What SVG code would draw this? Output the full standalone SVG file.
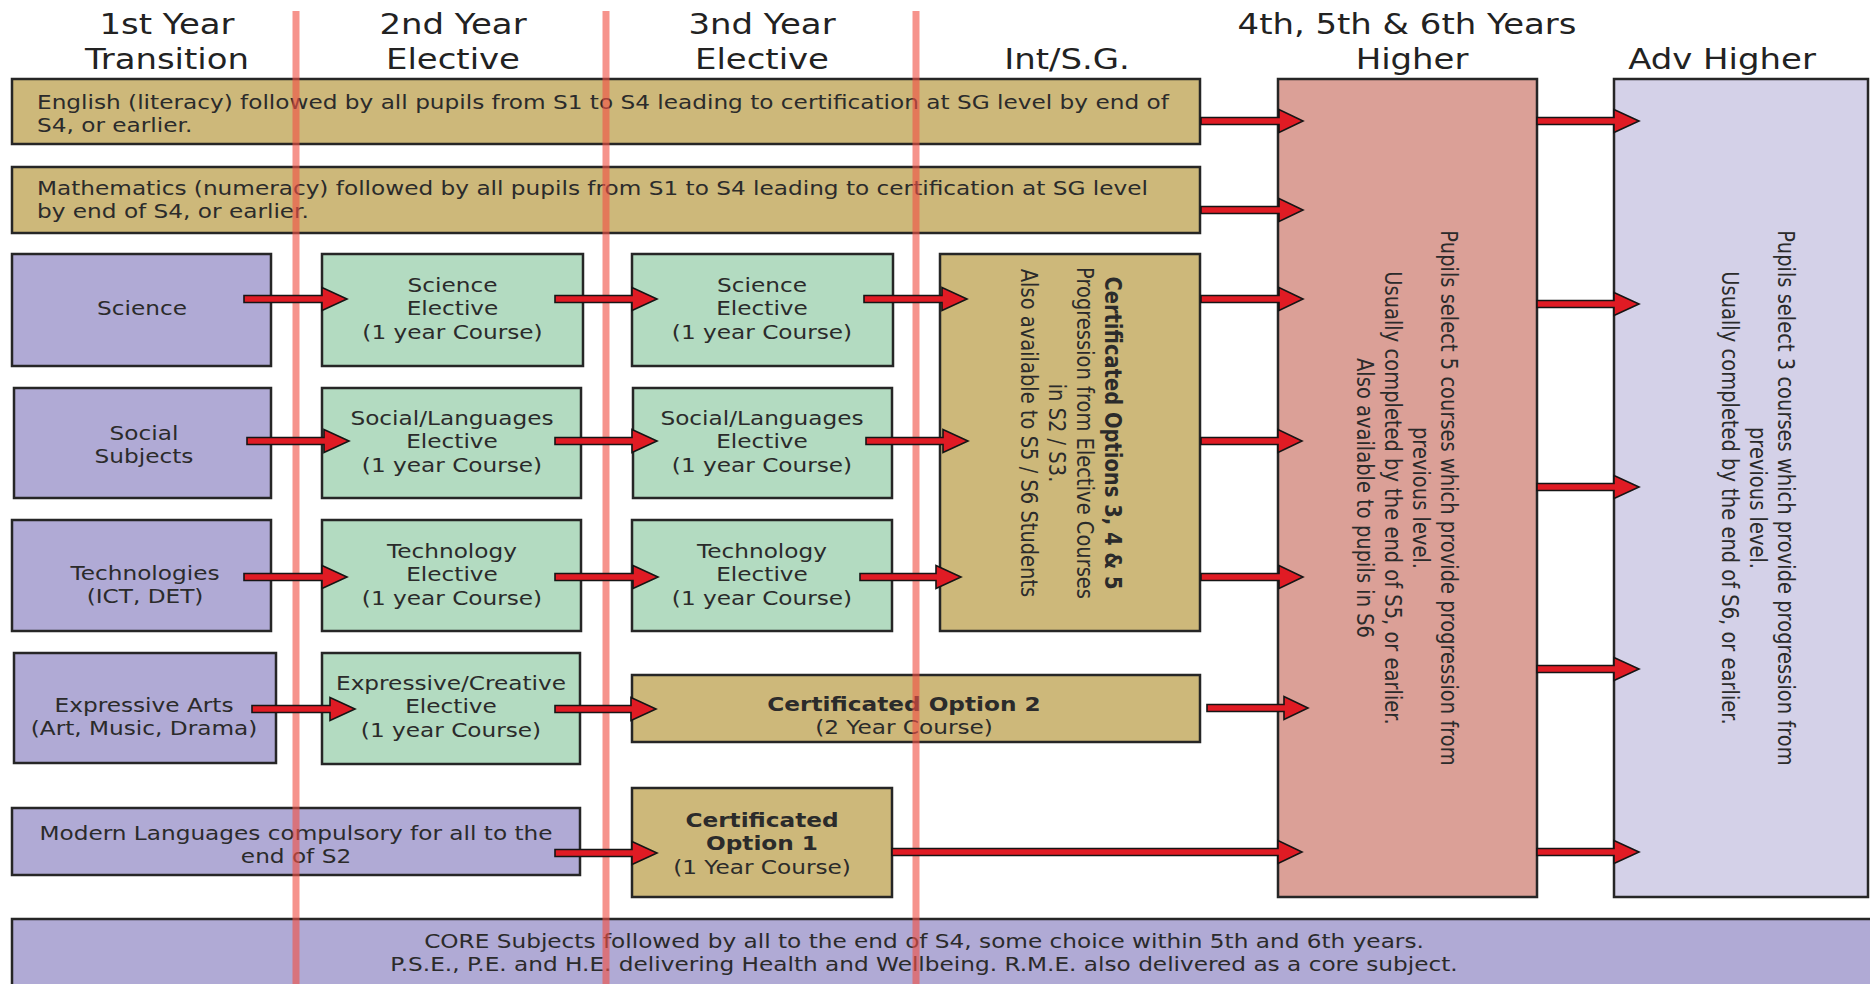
<svg xmlns="http://www.w3.org/2000/svg" width="1870" height="984" viewBox="0 0 1870 984">
<style>
.box{stroke:#262626;stroke-width:2.5}
.tan{fill:#cdb87a}.pur{fill:#b0aad5}.grn{fill:#b3dbc1}.pnk{fill:#dba097}.lav{fill:#d4d1e8}
text{font-family:"DejaVu Sans",Verdana,sans-serif;fill:#2b2b2b}
.hd{font-size:28.5px;fill:#222;text-anchor:middle}
.bt{font-size:19.5px;text-anchor:middle}
.lt{font-size:19.5px;text-anchor:start}
.b{font-weight:bold}
.arr{fill:#e01b24;stroke:#151515;stroke-width:1.6;stroke-linejoin:miter}
.sep{stroke:#f05046;stroke-opacity:0.62;stroke-width:7}
</style>
<rect width="1870" height="984" fill="#ffffff"/>

<g id="headers">
<text class="hd" transform="translate(167,34) scale(1.19,1)">1st Year</text>
<text class="hd" transform="translate(167,69) scale(1.19,1)">Transition</text>
<text class="hd" transform="translate(453,34) scale(1.19,1)">2nd Year</text>
<text class="hd" transform="translate(453,69) scale(1.19,1)">Elective</text>
<text class="hd" transform="translate(762,34) scale(1.19,1)">3nd Year</text>
<text class="hd" transform="translate(762,69) scale(1.19,1)">Elective</text>
<text class="hd" transform="translate(1067,69) scale(1.19,1)">Int/S.G.</text>
<text class="hd" transform="translate(1407,34) scale(1.19,1)">4th, 5th &amp; 6th Years</text>
<text class="hd" transform="translate(1412,69) scale(1.19,1)">Higher</text>
<text class="hd" transform="translate(1722,69) scale(1.19,1)">Adv Higher</text>
</g>

<g id="english">
<rect class="box tan" x="12" y="79" width="1188" height="65"/>
<text class="lt" transform="translate(37,108.5) scale(1.19,1)"><tspan x="0">English (literacy) followed by all pupils from S1 to S4 leading to certification at SG level by end of</tspan><tspan x="0" dy="23.4">S4, or earlier.</tspan></text>
</g>
<g id="maths">
<rect class="box tan" x="12" y="167" width="1188" height="66"/>
<text class="lt" transform="translate(37,195) scale(1.19,1)"><tspan x="0">Mathematics (numeracy) followed by all pupils from S1 to S4 leading to certification at SG level</tspan><tspan x="0" dy="23.4">by end of S4, or earlier.</tspan></text>
</g>

<g id="science">
<rect class="box pur" x="12" y="254" width="259" height="112"/>
<text class="bt" transform="translate(142,315) scale(1.19,1)">Science</text>
</g>
<g id="social">
<rect class="box pur" x="14" y="388" width="257" height="110"/>
<text class="bt" transform="translate(144,440) scale(1.19,1)"><tspan x="0">Social</tspan><tspan x="0" dy="23.4">Subjects</tspan></text>
</g>
<g id="tech">
<rect class="box pur" x="12" y="520" width="259" height="111"/>
<text class="bt" transform="translate(145,580) scale(1.19,1)"><tspan x="0">Technologies</tspan><tspan x="0" dy="23.4">(ICT, DET)</tspan></text>
</g>
<g id="expressive">
<rect class="box pur" x="14" y="653" width="262" height="110"/>
<text class="bt" transform="translate(144,712) scale(1.19,1)"><tspan x="0">Expressive Arts</tspan><tspan x="0" dy="23.4">(Art, Music, Drama)</tspan></text>
</g>
<g id="modlang">
<rect class="box pur" x="12" y="808" width="568" height="67"/>
<text class="bt" transform="translate(296,840) scale(1.19,1)"><tspan x="0">Modern Languages compulsory for all to the</tspan><tspan x="0" dy="23.4">end of S2</tspan></text>
</g>

<g id="sci2">
<rect class="box grn" x="322" y="254" width="261" height="112"/>
<text class="bt" transform="translate(452.5,292) scale(1.19,1)"><tspan x="0">Science</tspan><tspan x="0" dy="23.4">Elective</tspan><tspan x="0" dy="23.4">(1 year Course)</tspan></text>
</g>
<g id="soc2">
<rect class="box grn" x="322" y="388" width="259" height="110"/>
<text class="bt" transform="translate(452,425) scale(1.19,1)"><tspan x="0">Social/Languages</tspan><tspan x="0" dy="23.4">Elective</tspan><tspan x="0" dy="23.4">(1 year Course)</tspan></text>
</g>
<g id="tech2">
<rect class="box grn" x="322" y="520" width="259" height="111"/>
<text class="bt" transform="translate(452,558) scale(1.19,1)"><tspan x="0">Technology</tspan><tspan x="0" dy="23.4">Elective</tspan><tspan x="0" dy="23.4">(1 year Course)</tspan></text>
</g>
<g id="exp2">
<rect class="box grn" x="322" y="653" width="258" height="111"/>
<text class="bt" transform="translate(451,690) scale(1.19,1)"><tspan x="0">Expressive/Creative</tspan><tspan x="0" dy="23.4">Elective</tspan><tspan x="0" dy="23.4">(1 year Course)</tspan></text>
</g>

<g id="sci3">
<rect class="box grn" x="632" y="254" width="261" height="112"/>
<text class="bt" transform="translate(762,292) scale(1.19,1)"><tspan x="0">Science</tspan><tspan x="0" dy="23.4">Elective</tspan><tspan x="0" dy="23.4">(1 year Course)</tspan></text>
</g>
<g id="soc3">
<rect class="box grn" x="633" y="388" width="259" height="110"/>
<text class="bt" transform="translate(762,425) scale(1.19,1)"><tspan x="0">Social/Languages</tspan><tspan x="0" dy="23.4">Elective</tspan><tspan x="0" dy="23.4">(1 year Course)</tspan></text>
</g>
<g id="tech3">
<rect class="box grn" x="632" y="520" width="260" height="111"/>
<text class="bt" transform="translate(762,558) scale(1.19,1)"><tspan x="0">Technology</tspan><tspan x="0" dy="23.4">Elective</tspan><tspan x="0" dy="23.4">(1 year Course)</tspan></text>
</g>

<g id="cert345">
<rect class="box tan" x="940" y="254" width="260" height="377"/>
<text class="bt" transform="translate(1105,433) scale(1.19,1) rotate(90)"><tspan x="0" class="b">Certificated Options 3, 4 &amp; 5</tspan><tspan x="0" dy="23.4">Progression from Elective Courses</tspan><tspan x="0" dy="23.4">in S2 / S3.</tspan><tspan x="0" dy="23.4">Also available to S5 / S6 Students</tspan></text>
</g>
<g id="cert2">
<rect class="box tan" x="632" y="675" width="568" height="67"/>
<text class="bt" transform="translate(904,711) scale(1.19,1)"><tspan x="0" class="b">Certificated Option 2</tspan><tspan x="0" dy="23.4">(2 Year Course)</tspan></text>
</g>
<g id="cert1">
<rect class="box tan" x="632" y="788" width="260" height="109"/>
<text class="bt" transform="translate(762,827) scale(1.19,1)"><tspan x="0" class="b">Certificated</tspan><tspan x="0" dy="23.4" class="b">Option 1</tspan><tspan x="0" dy="23.4">(1 Year Course)</tspan></text>
</g>

<g id="higher">
<rect class="box pnk" x="1278" y="79" width="259" height="818"/>
<text class="bt" transform="translate(1441,498) scale(1.19,1) rotate(90)"><tspan x="0">Pupils select 5 courses which provide progression from</tspan><tspan x="0" dy="23.4">previous level.</tspan><tspan x="0" dy="23.4">Usually completed by the end of S5, or earlier.</tspan><tspan x="0" dy="23.4">Also available to pupils in S6</tspan></text>
</g>
<g id="advhigher">
<rect class="box lav" x="1614" y="79" width="254" height="818"/>
<text class="bt" transform="translate(1778,498) scale(1.19,1) rotate(90)"><tspan x="0">Pupils select 3 courses which provide progression from</tspan><tspan x="0" dy="23.4">previous level.</tspan><tspan x="0" dy="23.4">Usually completed by the end of S6, or earlier.</tspan></text>
</g>

<g id="core">
<rect class="box pur" x="12" y="919" width="1870" height="80"/>
<text class="bt" transform="translate(924,948) scale(1.19,1)"><tspan x="0">CORE Subjects followed by all to the end of S4, some choice within 5th and 6th years.</tspan><tspan x="0" dy="23.4">P.S.E., P.E. and H.E. delivering Health and Wellbeing. R.M.E. also delivered as a core subject.</tspan></text>
</g>

<g id="separators">
<line class="sep" x1="296" y1="11" x2="296" y2="984"/>
<line class="sep" x1="606" y1="11" x2="606" y2="984"/>
<line class="sep" x1="916" y1="11" x2="916" y2="984"/>
</g>

<g id="connectors">
<path class="arr" d="M1201,117.5 H1279 V109.5 L1303,121 L1279,132.5 V124.5 H1201 Z"/>
<path class="arr" d="M1201,206.5 H1279 V198.5 L1303,210 L1279,221.5 V213.5 H1201 Z"/>
<path class="arr" d="M244,295.5 H322 V287.5 L347,299 L322,310.5 V302.5 H244 Z"/>
<path class="arr" d="M555,295.5 H632 V287.5 L657,299 L632,310.5 V302.5 H555 Z"/>
<path class="arr" d="M864,295.5 H942 V287.5 L967,299 L942,310.5 V302.5 H864 Z"/>
<path class="arr" d="M1201,295.5 H1279 V287.5 L1303,299 L1279,310.5 V302.5 H1201 Z"/>
<path class="arr" d="M247,437.5 H324 V429.5 L349,441 L324,452.5 V444.5 H247 Z"/>
<path class="arr" d="M555,437.5 H632 V429.5 L657,441 L632,452.5 V444.5 H555 Z"/>
<path class="arr" d="M866,437.5 H943 V429.5 L968,441 L943,452.5 V444.5 H866 Z"/>
<path class="arr" d="M1201,437.5 H1278 V429.5 L1302,441 L1278,452.5 V444.5 H1201 Z"/>
<path class="arr" d="M244,573.5 H322 V565.5 L347,577 L322,588.5 V580.5 H244 Z"/>
<path class="arr" d="M555,573.5 H633 V565.5 L658,577 L633,588.5 V580.5 H555 Z"/>
<path class="arr" d="M860,573.5 H936 V565.5 L961,577 L936,588.5 V580.5 H860 Z"/>
<path class="arr" d="M1201,573.5 H1279 V565.5 L1303,577 L1279,588.5 V580.5 H1201 Z"/>
<path class="arr" d="M252,705.5 H330 V697.5 L355,709 L330,720.5 V712.5 H252 Z"/>
<path class="arr" d="M555,705.5 H631 V697.5 L656,709 L631,720.5 V712.5 H555 Z"/>
<path class="arr" d="M1207,704.5 H1284 V696.5 L1308,708 L1284,719.5 V711.5 H1207 Z"/>
<path class="arr" d="M555,849.5 H632 V841.5 L657,853 L632,864.5 V856.5 H555 Z"/>
<path class="arr" d="M892,848.5 H1278 V840.5 L1302,852 L1278,863.5 V855.5 H892 Z"/>
<path class="arr" d="M1537,117.5 H1614 V109.5 L1639,121 L1614,132.5 V124.5 H1537 Z"/>
<path class="arr" d="M1537,300.5 H1614 V292.5 L1639,304 L1614,315.5 V307.5 H1537 Z"/>
<path class="arr" d="M1537,483.5 H1614 V475.5 L1639,487 L1614,498.5 V490.5 H1537 Z"/>
<path class="arr" d="M1537,665.5 H1614 V657.5 L1639,669 L1614,680.5 V672.5 H1537 Z"/>
<path class="arr" d="M1537,848.5 H1614 V840.5 L1639,852 L1614,863.5 V855.5 H1537 Z"/>
</g>
</svg>
